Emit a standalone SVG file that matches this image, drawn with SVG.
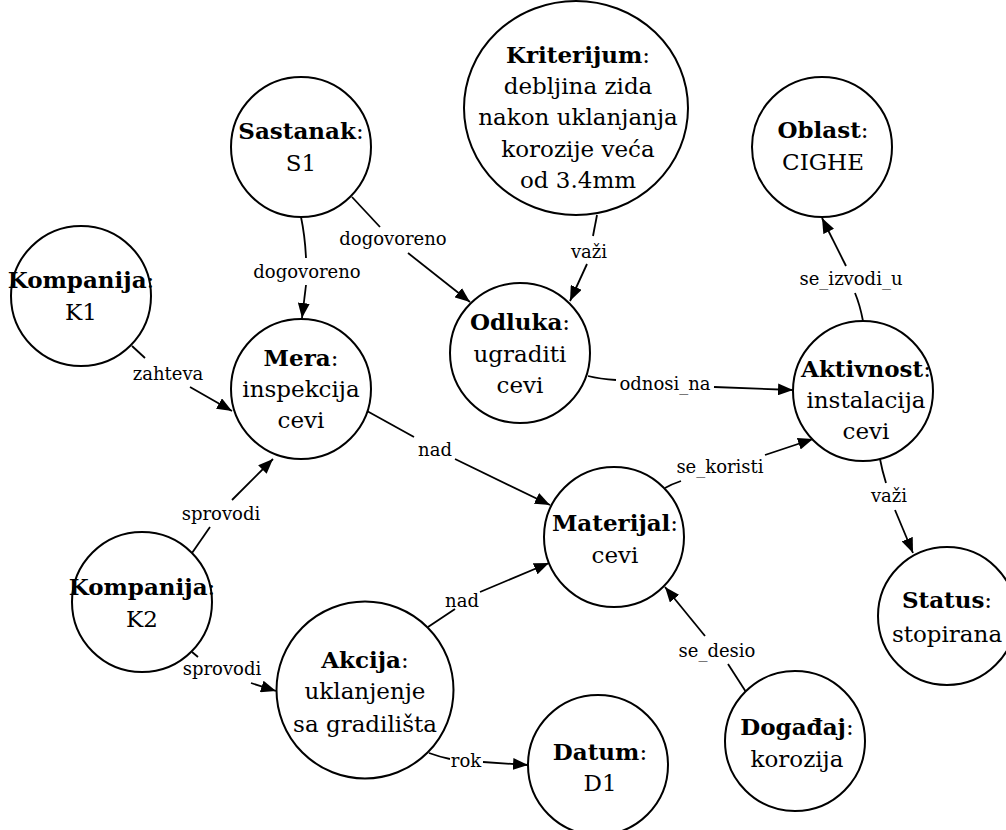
<svg xmlns="http://www.w3.org/2000/svg" width="1006" height="830" viewBox="0 0 1006 830">
  <style>
    .node { fill: #ffffff; stroke: #000000; stroke-width: 2; }
    .edge { fill: none; stroke: #000000; stroke-width: 1.8; }
    .nt { font-family: "DejaVu Serif", "Liberation Serif", serif; font-size: 23px; fill: #000000; text-anchor: middle; }
    .nt .b { font-weight: bold; }
    .lbl { font-family: "DejaVu Serif", "Liberation Serif", serif; font-size: 18px; fill: #000000; text-anchor: middle; }
  </style>
  <defs>
    <marker id="arrow" markerUnits="userSpaceOnUse" markerWidth="15" markerHeight="12" refX="15" refY="6" orient="auto">
      <path d="M0,0 L15,6 L0,12 z" fill="#000000"/>
    </marker>
  </defs>
  <rect width="1006" height="830" fill="#ffffff"/>

  <!-- connectors -->
  <g id="edges">
    <path class="edge" d="M301,217 Q305,236 306,258"/>
    <path class="edge" d="M306,285 L302,318" marker-end="url(#arrow)"/>
    <text class="lbl" x="307" y="278">dogovoreno</text>

    <path class="edge" d="M352,197 L380,227"/>
    <path class="edge" d="M408,253 L470,302" marker-end="url(#arrow)"/>
    <text class="lbl" x="393" y="245">dogovoreno</text>

    <path class="edge" d="M597,215 L593,236"/>
    <path class="edge" d="M587,264 L570,301" marker-end="url(#arrow)"/>
    <text class="lbl" x="589" y="258">važi</text>

    <path class="edge" d="M132,346 L145,358"/>
    <path class="edge" d="M190,387 L232,411" marker-end="url(#arrow)"/>
    <text class="lbl" x="168" y="380">zahteva</text>

    <path class="edge" d="M588,376 Q600,379 616,380"/>
    <path class="edge" d="M714,387 L793,390" marker-end="url(#arrow)"/>
    <text class="lbl" x="665" y="390">odnosi_na</text>

    <path class="edge" d="M863,321 Q860,305 855,293"/>
    <path class="edge" d="M846,266 L822,218" marker-end="url(#arrow)"/>
    <text class="lbl" x="851" y="285">se_izvodi_u</text>

    <path class="edge" d="M880,459 Q882,470 886,483"/>
    <path class="edge" d="M895,510 L913,553" marker-end="url(#arrow)"/>
    <text class="lbl" x="889" y="502">važi</text>

    <path class="edge" d="M367,411 L414,437"/>
    <path class="edge" d="M455,459 L550,505" marker-end="url(#arrow)"/>
    <text class="lbl" x="435" y="456">nad</text>

    <path class="edge" d="M665,488 Q672,484 681,481"/>
    <path class="edge" d="M765,455 L813,439" marker-end="url(#arrow)"/>
    <text class="lbl" x="720" y="473">se_koristi</text>

    <path class="edge" d="M192,553 L210,527"/>
    <path class="edge" d="M232,500 L273,459" marker-end="url(#arrow)"/>
    <text class="lbl" x="221" y="520">sprovodi</text>

    <path class="edge" d="M192,652 L198,657"/>
    <path class="edge" d="M251,683 L276,691" marker-end="url(#arrow)"/>
    <text class="lbl" x="222" y="675">sprovodi</text>

    <path class="edge" d="M428,627 L455,609"/>
    <path class="edge" d="M480,592 L549,563" marker-end="url(#arrow)"/>
    <text class="lbl" x="462" y="607">nad</text>

    <path class="edge" d="M429,753 Q440,757 450,759"/>
    <path class="edge" d="M483,762 L528,765" marker-end="url(#arrow)"/>
    <text class="lbl" x="466" y="767">rok</text>

    <path class="edge" d="M746,692 L728,664"/>
    <path class="edge" d="M705,636 L665,587" marker-end="url(#arrow)"/>
    <text class="lbl" x="717" y="657">se_desio</text>
  </g>

  <!-- nodes -->
  <g id="kriterijum">
    <ellipse class="node" cx="576" cy="108" rx="112" ry="107"/>
    <text class="nt" x="578" y="63"><tspan class="b">Kriterijum</tspan>:</text>
    <text class="nt" x="578" y="94">debljina zida</text>
    <text class="nt" x="578" y="125">nakon uklanjanja</text>
    <text class="nt" x="578" y="157">korozije veća</text>
    <text class="nt" x="578" y="188">od 3.4mm</text>
  </g>
  <g id="sastanak">
    <circle class="node" cx="301" cy="147" r="70"/>
    <text class="nt" x="301" y="139"><tspan class="b">Sastanak</tspan>:</text>
    <text class="nt" x="301" y="171">S1</text>
  </g>
  <g id="oblast">
    <circle class="node" cx="822" cy="147" r="70"/>
    <text class="nt" x="823" y="138"><tspan class="b">Oblast</tspan>:</text>
    <text class="nt" x="823" y="170">CIGHE</text>
  </g>
  <g id="kompanija-k1">
    <circle class="node" cx="81" cy="296" r="70"/>
    <text class="nt" x="81" y="288"><tspan class="b">Kompanija</tspan>:</text>
    <text class="nt" x="81" y="320">K1</text>
  </g>
  <g id="mera">
    <circle class="node" cx="301" cy="389" r="70"/>
    <text class="nt" x="301" y="366"><tspan class="b">Mera</tspan>:</text>
    <text class="nt" x="301" y="397">inspekcija</text>
    <text class="nt" x="301" y="428">cevi</text>
  </g>
  <g id="odluka">
    <circle class="node" cx="520" cy="353" r="70"/>
    <text class="nt" x="520" y="330"><tspan class="b">Odluka</tspan>:</text>
    <text class="nt" x="520" y="362">ugraditi</text>
    <text class="nt" x="520" y="393">cevi</text>
  </g>
  <g id="aktivnost">
    <circle class="node" cx="863" cy="391" r="70"/>
    <text class="nt" x="866" y="377"><tspan class="b">Aktivnost</tspan>:</text>
    <text class="nt" x="866" y="408">instalacija</text>
    <text class="nt" x="866" y="439">cevi</text>
  </g>
  <g id="materijal">
    <circle class="node" cx="614" cy="537" r="70"/>
    <text class="nt" x="615" y="531"><tspan class="b">Materijal</tspan>:</text>
    <text class="nt" x="615" y="563">cevi</text>
  </g>
  <g id="kompanija-k2">
    <circle class="node" cx="142" cy="602" r="70"/>
    <text class="nt" x="142" y="595"><tspan class="b">Kompanija</tspan>:</text>
    <text class="nt" x="142" y="627">K2</text>
  </g>
  <g id="status">
    <circle class="node" cx="947" cy="616" r="69"/>
    <text class="nt" x="947" y="608"><tspan class="b">Status</tspan>:</text>
    <text class="nt" x="947" y="642">stopirana</text>
  </g>
  <g id="akcija">
    <circle class="node" cx="365" cy="690" r="88.5"/>
    <text class="nt" x="365" y="668"><tspan class="b">Akcija</tspan>:</text>
    <text class="nt" x="365" y="699">uklanjenje</text>
    <text class="nt" x="365" y="732">sa gradilišta</text>
  </g>
  <g id="dogadjaj">
    <circle class="node" cx="795" cy="741" r="70"/>
    <text class="nt" x="797" y="735"><tspan class="b">Događaj</tspan>:</text>
    <text class="nt" x="797" y="767">korozija</text>
  </g>
  <g id="datum">
    <circle class="node" cx="598" cy="765" r="70"/>
    <text class="nt" x="600" y="760"><tspan class="b">Datum</tspan>:</text>
    <text class="nt" x="600" y="791">D1</text>
  </g>
</svg>
